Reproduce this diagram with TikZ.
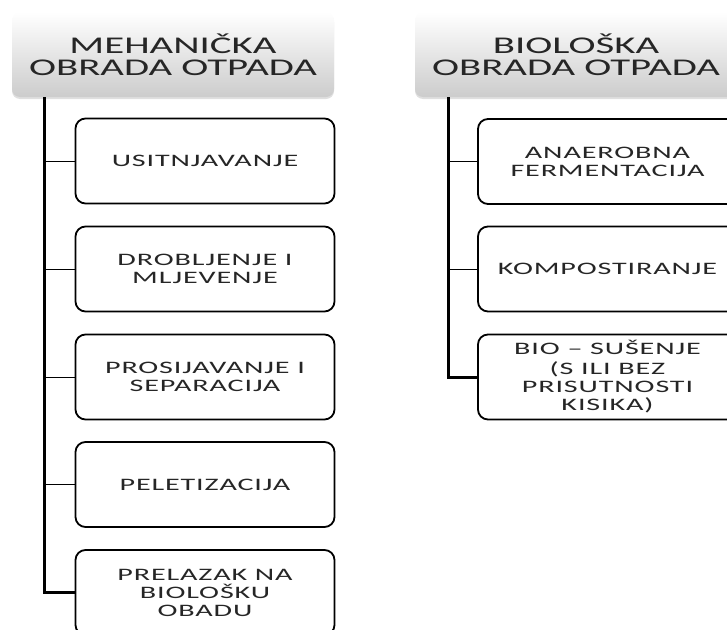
\documentclass[tikz,border=0pt]{standalone}
\usepackage{fontspec}
\setmainfont{Carlito}[FakeStretch=1.72,LetterSpace=5]
\newfontfamily\hdrfont{Carlito}[FakeStretch=1.7]
\usetikzlibrary{shadows}
\begin{document}
\begin{tikzpicture}[x=1pt,y=-1pt,
  header/.style={rounded corners=8pt, top color=white, bottom color=black!20,
    draw=none, minimum width=322pt, minimum height=85pt, align=center,
    font=\hdrfont\fontsize{24}{22}\selectfont, text=black!85,
    drop shadow={opacity=0.25, shadow xshift=0pt, shadow yshift=-2pt}},
  item/.style={rounded corners=10pt, draw=black, line width=1.8pt, fill=white,
    minimum width=259pt, minimum height=85pt, align=center,
    font=\fontsize{17.5}{18}\selectfont, text=black!85},
  trunk/.style={line width=3pt},
  branch/.style={line width=1pt}]
\useasboundingbox (0,0) rectangle (727,629);
\clip (0,0) rectangle (727,629);
% left column
\node[header] (h1) at (173,54.5) {MEHANIČKA\\OBRADA OTPADA};
\node[item] (a1) at (205,161) {USITNJAVANJE};
\node[item] (a2) at (205,269) {DROBLJENJE I\\MLJEVENJE};
\node[item] (a3) at (205,377) {PROSIJAVANJE I\\SEPARACIJA};
\node[item] (a4) at (205,484.5) {PELETIZACIJA};
\node[item] (a5) at (205,592.5) {PRELAZAK NA\\BIOLOŠKU\\OBADU};
\coordinate (ta) at (44,97);
\draw[trunk] (ta) |- (a5.west);
\foreach \n in {a1,a2,a3,a4} \draw[branch] (ta |- \n.west) -- (\n.west);
% right column
\node[header] (h2) at (576,54.5) {BIOLOŠKA\\OBRADA OTPADA};
\node[item] (b1) at (607.5,161.5) {ANAEROBNA\\FERMENTACIJA};
\node[item] (b2) at (607.5,269) {KOMPOSTIRANJE};
\node[item] (b3) at (607.5,377) {BIO – SUŠENJE\\[2pt](S ILI BEZ\\PRISUTNOSTI\\KISIKA)};
\coordinate (tb) at (448,97);
\draw[trunk] (tb) |- (b3.west);
\foreach \n in {b1,b2} \draw[branch] (tb |- \n.west) -- (\n.west);
\end{tikzpicture}
\end{document}
